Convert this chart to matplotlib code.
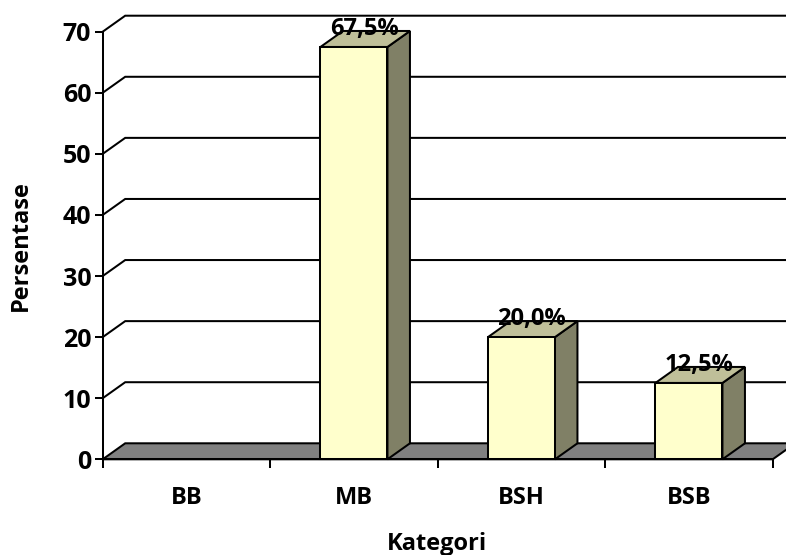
import matplotlib
matplotlib.use("Agg")
import matplotlib.pyplot as plt
from matplotlib.patches import Polygon

kategori = ["BB", "MB", "BSH", "BSB"]
persentase = [0, 67.5, 20.0, 12.5]
ticks_y = [0, 10, 20, 30, 40, 50, 60, 70]

# colores de las caras de la barra
FRENTE = "#FFFFCC"
TAPA = "#BFBF99"
LADO = "#808066"
SUELO = "#808080"
LW = 1.45

plt.rcParams["font.family"] = ["Open Sans", "DejaVu Sans"]
plt.rcParams["font.weight"] = "bold"

W, H = 786, 555
fig = plt.figure(figsize=(W / 100, H / 100), dpi=100)

# los ejes son el plano frontal, el fondo se dibuja desplazado
x0, x1, y0, y70 = 102.7, 772.7, 459.3, 31.7
ax = fig.add_axes([x0 / W, 1 - y0 / H, (x1 - x0) / W, (y0 - y70) / H])
ax.set_xlim(0, 4)
ax.set_ylim(0, 70)

# profundidad del efecto 3D en unidades de datos
dx = 22.5 / ((x1 - x0) / 4)
dy = 16 / ((y0 - y70) / 70)
ancho = 0.4

# rejilla: diagonal desde el eje y línea en la pared del fondo
for t in ticks_y[1:]:
    ax.plot([0, dx, 4.2], [t, t + dy, t + dy], color="black", lw=LW,
            clip_on=False, zorder=1, solid_joinstyle="miter")

# suelo
ax.add_patch(Polygon([(0, 0), (4, 0), (4 + dx, dy), (dx, dy)], closed=True,
                     facecolor=SUELO, edgecolor="black", lw=LW,
                     clip_on=False, zorder=2))

for i, v in enumerate(persentase):
    if v == 0:
        continue
    izq = i + 0.5 - ancho / 2
    der = i + 0.5 + ancho / 2
    ax.add_patch(Polygon([(der, 0), (der + dx, dy), (der + dx, v + dy), (der, v)],
                         closed=True, facecolor=LADO, edgecolor="black", lw=LW,
                         clip_on=False, zorder=3))
    ax.add_patch(Polygon([(izq, v), (der, v), (der + dx, v + dy), (izq + dx, v + dy)],
                         closed=True, facecolor=TAPA, edgecolor="black", lw=LW,
                         clip_on=False, zorder=3))
    ax.add_patch(Polygon([(izq, 0), (der, 0), (der, v), (izq, v)],
                         closed=True, facecolor=FRENTE, edgecolor="black", lw=LW,
                         clip_on=False, zorder=4))
    etiqueta = f"{v:.1f}%".replace(".", ",")
    ax.annotate(etiqueta, xy=(i + 0.5, v), xytext=(7.5, 13),
                textcoords="offset points", ha="center", va="center",
                fontsize=17, fontweight="bold", color="black", zorder=6,
                annotation_clip=False)

for lado in ["top", "right"]:
    ax.spines[lado].set_visible(False)
for lado in ["left", "bottom"]:
    ax.spines[lado].set_linewidth(LW)
    ax.spines[lado].set_zorder(5)

ax.set_yticks(ticks_y)
ax.set_xticks(range(5))
ax.set_xticklabels([])
ax.set_xticks([i + 0.5 for i in range(4)], minor=True)
ax.set_xticklabels(kategori, minor=True)
ax.tick_params(axis="y", length=5.8, width=LW, labelsize=18, pad=2.5)
ax.tick_params(axis="x", which="major", length=6.5, width=LW)
ax.tick_params(axis="x", which="minor", length=0, labelsize=17, pad=19)

fig.text(21 / W, 1 - 246 / H, "Persentase", rotation=90, ha="center", va="center",
         fontsize=17, fontweight="bold")
fig.text(437 / W, 1 - 544 / H, "Kategori", ha="center", va="center",
         fontsize=17, fontweight="bold")

fig.savefig("out.png", dpi=100)
